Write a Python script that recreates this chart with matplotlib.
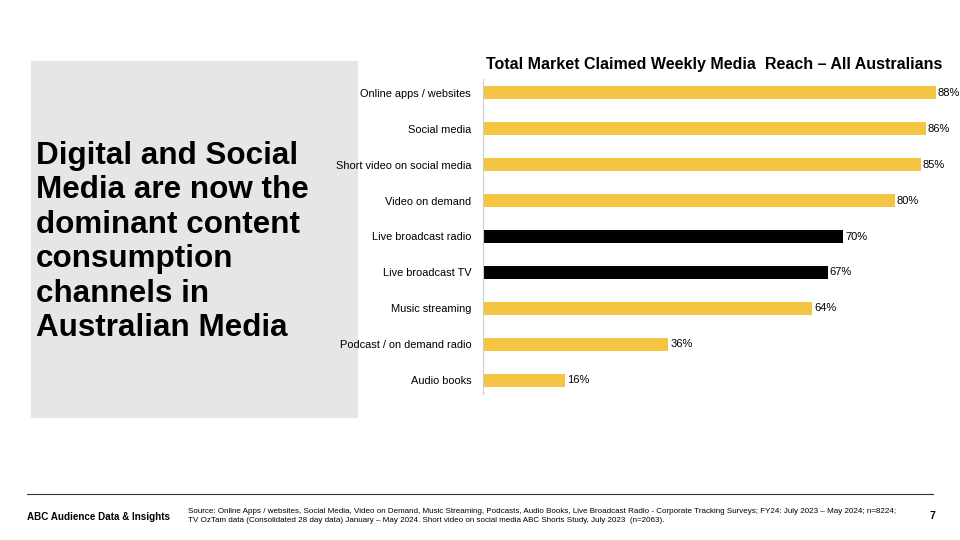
import matplotlib
matplotlib.use("Agg")
import matplotlib.pyplot as plt
from matplotlib.patches import Rectangle
from matplotlib.lines import Line2D

plt.rcParams['font.family'] = ['Liberation Sans', 'DejaVu Sans']

categories = ["Online apps / websites", "Social media", "Short video on social media",
              "Video on demand", "Live broadcast radio", "Live broadcast TV",
              "Music streaming", "Podcast / on demand radio", "Audio books"]
values = [88, 86, 85, 80, 70, 67, 64, 36, 16]
highlight = [False, False, False, False, True, True, False, False, False]
YELLOW = "#F4C542"
BLACK = "#000000"
colors = [BLACK if h else YELLOW for h in highlight]

title = "Total Market Claimed Weekly Media  Reach \u2013 All Australians"
headline = "Digital and Social\nMedia are now the\ndominant content\nconsumption\nchannels in\nAustralian Media"
footer_left = "ABC Audience Data & Insights"
source = ("Source: Online Apps / websites, Social Media, Video on Demand, Music Streaming, Podcasts, Audio Books, Live Broadcast Radio - Corporate Tracking Surveys; FY24: July 2023 \u2013 May 2024; n=8224;\n"
          "TV OzTam data (Consolidated 28 day data) January \u2013 May 2024. Short video on social media ABC Shorts Study, July 2023  (n=2063).")
page = "7"

W, H = 960, 540
fig = plt.figure(figsize=(9.6, 5.4), dpi=100)
fig.patch.set_facecolor("white")

def fx(px): return px / W
def fy(py): return 1 - py / H

# grey panel
fig.patches.append(Rectangle((fx(31), fy(418)), fx(358) - fx(31), fy(61) - fy(418),
                             transform=fig.transFigure, facecolor="#e6e6e6", edgecolor="none", zorder=-5))
fig.text(fx(36), fy(242), headline, fontsize=22.6, fontweight="bold", ha="left", va="center",
         linespacing=1.19, color="black")

# chart axes
left, right = 483, 483 + 90 * (453 / 88)
top, bottom = 78.6, 394.4
ax = fig.add_axes([fx(left), fy(bottom), fx(right) - fx(left), fy(top) - fy(bottom)])
ax.set_zorder(2)
ypos = list(range(len(categories)))
ax.barh(ypos, values, height=0.36, color=colors)
ax.set_xlim(0, 90)
ax.set_ylim(len(categories) - 1 + 0.4, -0.4)
ax.set_yticks(ypos)
ax.set_yticklabels(categories, fontsize=7.9)
ax.tick_params(axis='y', length=0, pad=8.5)
ax.set_xticks([])
for s in ["top", "right", "bottom"]:
    ax.spines[s].set_visible(False)
ax.spines["left"].set_color("#cccccc")
ax.spines["left"].set_linewidth(0.8)
ax.set_facecolor("none")
for y, v in zip(ypos, values):
    ax.text(v + 0.35, y, f"{v}%", va="center", ha="left", fontsize=8)

fig.text(fx(714), fy(65), title, fontsize=11.5, fontweight="bold", ha="center", va="center")

# footer
fig.add_artist(Line2D([fx(27), fx(933)], [fy(494), fy(494)], transform=fig.transFigure,
                      color="#333333", linewidth=0.8))
fig.text(fx(27), fy(517), footer_left, fontsize=7.1, fontweight="bold", ha="left", va="center")
fig.text(fx(188), fy(516), source, fontsize=5.75, ha="left", va="center", linespacing=1.3)
fig.text(fx(932), fy(516), page, fontsize=7.5, fontweight="bold", ha="center", va="center")

fig.savefig("out.png", dpi=100)
